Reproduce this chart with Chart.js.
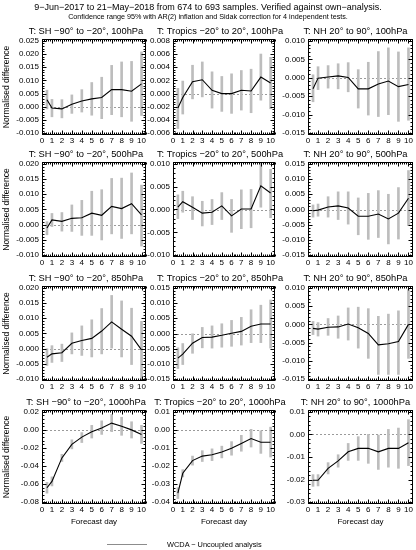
<!DOCTYPE html>
<html>
<head>
<meta charset="utf-8">
<script src="https://cdn.jsdelivr.net/npm/chart.js@4.4.1/dist/chart.umd.min.js"></script>
<style>
  body { margin: 0; background: #fff; width: 416px; height: 550px; position: relative; overflow: hidden;
         font-family: "Liberation Sans", Arial, sans-serif; color: #000; }
  .head1 { position: absolute; top: 1px; left: 0; width: 416px; text-align: center; font-size: 9px; line-height: 12px; will-change: transform; }
  .head2 { position: absolute; top: 12px; left: 0; width: 416px; text-align: center; font-size: 7.2px; line-height: 10px; will-change: transform; }
  canvas { position: absolute; }
  .legend { position: absolute; top: 539px; left: 107px; width: 200px; height: 12px; font-size: 7.4px; line-height: 12px; will-change: transform; }
  .legend span.swatch { position: absolute; left: 0; top: 5px; width: 40px; height: 0; border-top: 1.5px solid #8c8c8c; }
  .legend span.label { position: absolute; left: 60px; top: 0; white-space: nowrap; color: #000; }
</style>
</head>
<body>
<div class="head1">9−Jun−2017 to 21−May−2018 from 674 to 693 samples. Verified against own−analysis.</div>
<div class="head2">Confidence range 95% with AR(2) inflation and Sidak correction for 4 independent tests.</div>
<div class="legend"><span class="swatch"></span><span class="label">WCDA − Uncoupled analysis</span></div>
<script>
const days = [0.5, 1, 2, 3, 4, 5, 6, 7, 8, 9, 10];
const xTicks = [0, 1, 2, 3, 4, 5, 6, 7, 8, 9, 10];

// 100hPa
const sh100 = [0.0027, -0.0005, -0.0008, 0.0010, 0.0022, 0.0030, 0.0035, 0.0065, 0.0065, 0.0059, 0.0087];
const sh100Lo = [-0.0008, -0.0038, -0.0042, -0.0025, -0.0020, -0.0032, -0.0045, -0.0030, -0.0038, -0.0055, -0.0033];
const sh100Hi = [0.0063, 0.0028, 0.0027, 0.0045, 0.0065, 0.0092, 0.0112, 0.0157, 0.0170, 0.0172, 0.0208];
const tr100 = [-0.0022, -0.0006, 0.0018, 0.0021, 0.0005, 0.0000, 0.0000, 0.0005, 0.0004, 0.0025, 0.0016];
const tr100Lo = [-0.0053, -0.0031, -0.0008, -0.0005, -0.0022, -0.0027, -0.0030, -0.0025, -0.0029, -0.0010, -0.0023];
const tr100Hi = [0.0008, 0.0019, 0.0043, 0.0048, 0.0033, 0.0026, 0.0030, 0.0035, 0.0037, 0.0060, 0.0055];
const nh100 = [-0.0030, -0.0001, 0.0002, 0.0005, 0.0001, -0.0030, -0.0030, -0.0017, -0.0009, -0.0024, -0.0018];
const nh100Lo = [-0.0065, -0.0032, -0.0028, -0.0030, -0.0038, -0.0082, -0.0101, -0.0105, -0.0100, -0.0118, -0.0115];
const nh100Hi = [0.0008, 0.0030, 0.0033, 0.0038, 0.0041, 0.0022, 0.0042, 0.0071, 0.0081, 0.0070, 0.0081];

// 500hPa
const sh500 = [-0.0011, 0.0016, 0.0011, 0.0021, 0.0023, 0.0038, 0.0031, 0.0060, 0.0053, 0.0069, 0.0032];
const sh500Lo = [-0.0033, -0.0006, -0.0021, -0.0022, -0.0035, -0.0035, -0.0050, -0.0030, -0.0045, -0.0030, -0.0070];
const sh500Hi = [0.0010, 0.0037, 0.0040, 0.0065, 0.0080, 0.0110, 0.0115, 0.0152, 0.0153, 0.0170, 0.0130];
const tr500 = [0.0005, 0.0017, 0.0005, -0.0008, -0.0006, 0.0008, -0.0014, 0.0001, 0.0001, 0.0052, 0.0036];
const tr500Lo = [-0.0020, -0.0006, -0.0022, -0.0036, -0.0033, -0.0022, -0.0050, -0.0042, -0.0040, 0.0005, -0.0018];
const tr500Hi = [0.0032, 0.0040, 0.0028, 0.0018, 0.0022, 0.0037, 0.0022, 0.0043, 0.0044, 0.0102, 0.0088];
const nh500 = [-0.0004, -0.0002, 0.0008, 0.0012, 0.0005, -0.0022, -0.0022, -0.0015, -0.0031, -0.0012, 0.0037];
const nh500Lo = [-0.0025, -0.0022, -0.0025, -0.0033, -0.0048, -0.0083, -0.0098, -0.0092, -0.0113, -0.0097, -0.0053];
const nh500Hi = [0.0015, 0.0018, 0.0042, 0.0058, 0.0058, 0.0038, 0.0053, 0.0062, 0.0050, 0.0072, 0.0128];

// 850hPa
const sh850 = [-0.0028, -0.0017, -0.0013, 0.0018, 0.0027, 0.0034, 0.0058, 0.0088, 0.0064, 0.0041, -0.0004];
const sh850Lo = [-0.0055, -0.0045, -0.0042, -0.0017, -0.0022, -0.0027, -0.0017, 0.0002, -0.0027, -0.0052, -0.0115];
const sh850Hi = [0.0000, 0.0010, 0.0015, 0.0052, 0.0075, 0.0095, 0.0132, 0.0175, 0.0157, 0.0133, 0.0090];
const tr850 = [-0.0081, -0.0068, -0.0032, -0.0013, -0.0012, -0.0006, 0.0001, 0.0007, 0.0024, 0.0031, 0.0031];
const tr850Lo = [-0.0115, -0.0102, -0.0065, -0.0047, -0.0048, -0.0045, -0.0042, -0.0038, -0.0030, -0.0030, -0.0048];
const tr850Hi = [-0.0047, -0.0033, -0.0001, 0.0020, 0.0025, 0.0032, 0.0043, 0.0053, 0.0078, 0.0093, 0.0110];
const nh850 = [-0.0011, -0.0013, -0.0008, -0.0007, 0.0001, -0.0009, -0.0025, -0.0056, -0.0053, -0.0047, 0.0000];
const nh850Lo = [-0.0028, -0.0032, -0.0030, -0.0038, -0.0043, -0.0065, -0.0093, -0.0137, -0.0137, -0.0137, -0.0093];
const nh850Hi = [0.0008, 0.0005, 0.0016, 0.0023, 0.0045, 0.0047, 0.0043, 0.0022, 0.0028, 0.0037, 0.0095];

// 1000hPa
const sh1000 = [-0.064, -0.057, -0.031, -0.016, -0.008, -0.002, 0.002, 0.0075, 0.004, 0.000, -0.005];
const sh1000Lo = [-0.070, -0.062, -0.035, -0.021, -0.014, -0.009, -0.005, -0.002, -0.006, -0.009, -0.015];
const sh1000Hi = [-0.058, -0.052, -0.027, -0.011, -0.003, 0.005, 0.010, 0.017, 0.014, 0.009, 0.005];
const tr1000 = [-0.035, -0.024, -0.017, -0.0145, -0.0138, -0.0122, -0.0102, -0.0075, -0.0048, -0.0068, -0.0068];
const tr1000Lo = [-0.038, -0.026, -0.0195, -0.0175, -0.017, -0.0155, -0.014, -0.0118, -0.0095, -0.013, -0.015];
const tr1000Hi = [-0.032, -0.022, -0.0145, -0.0115, -0.0105, -0.009, -0.0065, -0.003, 0.0003, -0.0005, 0.0015];
const nh1000 = [-0.0203, -0.0203, -0.0150, -0.0117, -0.0077, -0.0062, -0.0061, -0.0077, -0.0062, -0.0062, -0.0037];
const nh1000Lo = [-0.0230, -0.0228, -0.0175, -0.0145, -0.0115, -0.0115, -0.0128, -0.0155, -0.0145, -0.0150, -0.0138];
const nh1000Hi = [-0.0178, -0.0178, -0.0125, -0.0090, -0.0040, -0.0010, 0.0000, -0.0003, 0.0022, 0.0028, 0.0065];

// y tick labels for each panel
const ticksSH100 = [-0.010, -0.005, 0, 0.005, 0.010, 0.015, 0.020, 0.025];
const ticksTr100 = [-0.006, -0.004, -0.002, 0, 0.002, 0.004, 0.006, 0.008];
const ticksNH100 = [-0.015, -0.010, -0.005, 0, 0.005, 0.010];
const ticksSH500 = [-0.010, -0.005, 0, 0.005, 0.010, 0.015, 0.020];
const ticksTr500 = [-0.010, -0.005, 0, 0.005, 0.010];
const ticksNH500 = [-0.015, -0.010, -0.005, 0, 0.005, 0.010, 0.015];
const ticksSH850 = [-0.010, -0.005, 0, 0.005, 0.010, 0.015, 0.020];
const ticksTr850 = [-0.015, -0.010, -0.005, 0, 0.005, 0.010, 0.015];
const ticksNH850 = [-0.015, -0.010, -0.005, 0, 0.005, 0.010];
const ticksSH1000 = [-0.08, -0.06, -0.04, -0.02, 0, 0.02];
const ticksTr1000 = [-0.04, -0.03, -0.02, -0.01, 0, 0.01];
const ticksNH1000 = [-0.03, -0.02, -0.01, 0, 0.01];

const titles = [
  ['T: SH −90° to −20°, 100hPa', 'T: Tropics −20° to 20°, 100hPa', 'T: NH 20° to 90°, 100hPa'],
  ['T: SH −90° to −20°, 500hPa', 'T: Tropics −20° to 20°, 500hPa', 'T: NH 20° to 90°, 500hPa'],
  ['T: SH −90° to −20°, 850hPa', 'T: Tropics −20° to 20°, 850hPa', 'T: NH 20° to 90°, 850hPa'],
  ['T: SH −90° to −20°, 1000hPa', 'T: Tropics −20° to 20°, 1000hPa', 'T: NH 20° to 90°, 1000hPa']
];

const panels = [
  [[sh100, sh100Lo, sh100Hi, ticksSH100], [tr100, tr100Lo, tr100Hi, ticksTr100], [nh100, nh100Lo, nh100Hi, ticksNH100]],
  [[sh500, sh500Lo, sh500Hi, ticksSH500], [tr500, tr500Lo, tr500Hi, ticksTr500], [nh500, nh500Lo, nh500Hi, ticksNH500]],
  [[sh850, sh850Lo, sh850Hi, ticksSH850], [tr850, tr850Lo, tr850Hi, ticksTr850], [nh850, nh850Lo, nh850Hi, ticksNH850]],
  [[sh1000, sh1000Lo, sh1000Hi, ticksSH1000], [tr1000, tr1000Lo, tr1000Hi, ticksTr1000], [nh1000, nh1000Lo, nh1000Hi, ticksNH1000]]
];

// layout of the grid of panels
const colLeft = [0, 140, 275];
const colWidth = [170, 160, 154];
const yAxisW = [42, 33, 33];
const padRight = [24, 25, 16];
const titleShift = [-8, -4, -5];
const rowTop = [25, 148, 272, 396];
const rowHeight = [123, 122, 122, 134];
const xAxisH = [13, 13, 13, 26];
const FONT = '"Liberation Sans", Arial, sans-serif';

Chart.defaults.font.family = FONT;
Chart.defaults.color = '#000';

// dotted zero line, panel title, frame and inward ticks like the original plots
const framePlugin = {
  id: 'frame',
  beforeDatasetsDraw(chart) {
    const { ctx, chartArea: a, scales: { y } } = chart;
    const y0 = Math.round(y.getPixelForValue(0)) + 0.5;
    ctx.save();
    ctx.strokeStyle = '#9a9a9a';
    ctx.lineWidth = 1;
    ctx.setLineDash([2, 2]);
    ctx.beginPath();
    ctx.moveTo(a.left, y0);
    ctx.lineTo(a.right, y0);
    ctx.stroke();
    ctx.restore();
  },
  afterDraw(chart, args, opts) {
    const { ctx, chartArea: a, scales: { x, y } } = chart;
    const L = Math.round(a.left) + 0.5, R = Math.round(a.right) - 0.5;
    const T = Math.round(a.top) + 0.5, B = Math.round(a.bottom) - 0.5;
    ctx.save();
    ctx.fillStyle = '#000';
    ctx.font = '9.3px ' + FONT;
    ctx.textAlign = 'center';
    ctx.textBaseline = 'middle';
    ctx.fillText(opts.title, (a.left + a.right) / 2 + opts.shift, 6.5);

    ctx.strokeStyle = '#000';
    ctx.lineWidth = 1;
    ctx.beginPath();
    // x ticks
    for (let v = 0; v <= x.max + 1e-9; v += 0.2) {
      const major = Math.abs(v - Math.round(v)) < 1e-6;
      const len = major ? 4 : 2;
      const px = Math.round(x.getPixelForValue(v)) + 0.5;
      ctx.moveTo(px, B); ctx.lineTo(px, B - len);
      ctx.moveTo(px, T); ctx.lineTo(px, T + len);
    }
    // y ticks
    const tv = y.ticks.map(t => t.value);
    const step = tv[1] - tv[0];
    for (let v = tv[0] - step; v <= y.max + 1e-12; v += step / 5) {
      if (v < y.min) continue;
      const k = Math.round((v - tv[0]) / step * 5);
      const len = k % 5 === 0 ? 4 : 2;
      const py = Math.round(y.getPixelForValue(v)) + 0.5;
      ctx.moveTo(L, py); ctx.lineTo(L + len, py);
      ctx.moveTo(R, py); ctx.lineTo(R - len, py);
    }
    ctx.stroke();
    ctx.strokeRect(L, T, R - L, B - T);
    ctx.restore();
  }
};

for (let r = 0; r < 4; r++) {
  for (let c = 0; c < 3; c++) {
    const [mean, lo, hi, yTicks] = panels[r][c];
    const canvas = document.createElement('canvas');
    canvas.width = colWidth[c];
    canvas.height = rowHeight[r];
    canvas.style.left = colLeft[c] + 'px';
    canvas.style.top = rowTop[r] + 'px';
    canvas.style.width = colWidth[c] + 'px';
    canvas.style.height = rowHeight[r] + 'px';
    document.body.appendChild(canvas);

    const yMin = yTicks[0], yMax = yTicks[yTicks.length - 1];
    const pad = (yMax - yMin) * 0.02;
    const decimals = r === 3 ? 2 : 3;

    new Chart(canvas, {
      type: 'line',
      data: {
        datasets: [
          {
            type: 'line',
            data: days.map((d, i) => ({ x: d, y: mean[i] })),
            borderColor: '#000',
            borderWidth: 1.1,
            pointRadius: 0,
            tension: 0,
            order: 1
          },
          {
            type: 'bar',
            data: days.map((d, i) => ({ x: d, y: [lo[i], hi[i]] })),
            backgroundColor: '#bdbdbd',
            barThickness: 2,
            grouped: false,
            order: 2
          }
        ]
      },
      options: {
        responsive: false,
        animation: false,
        devicePixelRatio: 1,
        layout: { autoPadding: false, padding: { left: 0, right: padRight[c], top: 14, bottom: 0 } },
        plugins: {
          legend: { display: false },
          tooltip: { enabled: false },
          title: { display: false },
          frame: { title: titles[r][c], shift: titleShift[c] }
        },
        scales: {
          x: {
            type: 'linear',
            min: 0,
            max: 10.45,
            offset: false,
            grid: { display: false, drawTicks: false },
            border: { display: false },
            afterBuildTicks: s => { s.ticks = xTicks.map(v => ({ value: v })); },
            afterFit: s => { s.height = xAxisH[r]; },
            ticks: { font: { size: 8 }, padding: 1, maxRotation: 0, autoSkip: false },
            title: {
              display: r === 3,
              text: 'Forecast day',
              font: { size: 8 },
              padding: { top: 2, bottom: 3 }
            }
          },
          y: {
            type: 'linear',
            min: yMin - pad,
            max: yMax + pad,
            grid: { display: false, drawTicks: false },
            border: { display: false },
            afterBuildTicks: s => { s.ticks = yTicks.map(v => ({ value: v })); },
            afterFit: s => { s.width = yAxisW[c]; },
            ticks: {
              font: { size: 8 },
              padding: 3,
              autoSkip: false,
              callback: v => v.toFixed(decimals)
            },
            title: {
              display: c === 0,
              text: 'Normalised difference',
              font: { size: 8.5 },
              padding: { top: 2, bottom: 0 }
            }
          }
        }
      },
      plugins: [framePlugin]
    });
  }
}
</script>
</body>
</html>
